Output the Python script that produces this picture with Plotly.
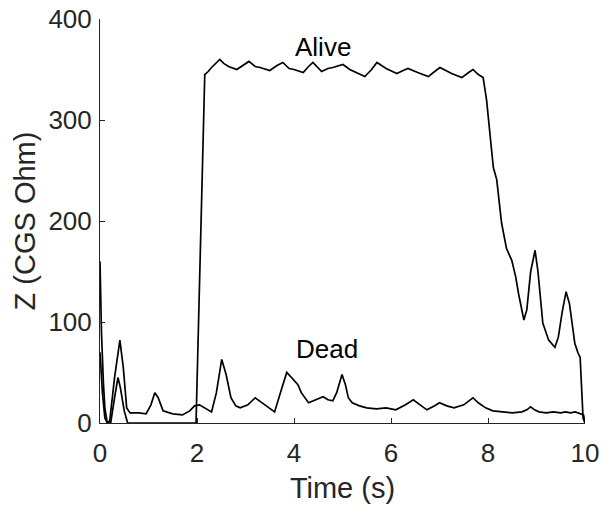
import plotly.graph_objects as go

# Alive trace (time in s, impedance)
t_alive = [0, 0.03, 0.07, 0.1, 0.15, 0.22, 0.3, 0.37, 0.42, 0.5, 0.57, 1.0, 1.5, 1.98,
           2.16, 2.23, 2.3, 2.4, 2.47, 2.55, 2.65, 2.82, 2.95, 3.07, 3.2, 3.3, 3.5,
           3.65, 3.77, 3.9, 4.0, 4.19, 4.3, 4.39, 4.57, 4.7, 4.8, 5.01, 5.15, 5.25,
           5.46, 5.6, 5.71, 5.9, 6.12, 6.25, 6.35, 6.55, 6.77, 6.9, 7.01, 7.25,
           7.46, 7.6, 7.69, 7.8, 7.9, 7.97, 8.04, 8.11, 8.18, 8.28, 8.38, 8.49,
           8.57, 8.63, 8.74, 8.8, 8.88, 8.97, 9.03, 9.13, 9.25, 9.38, 9.45, 9.53,
           9.61, 9.68, 9.79, 9.85, 9.9, 9.93, 9.96, 10.0]
z_alive = [160, 90, 40, 15, 0, 0, 25, 45, 35, 12, 0, 0, 0, 0,
           345, 348, 352, 357, 360, 356, 353, 350, 354, 358, 353, 352, 349,
           354, 357, 351, 350, 347, 353, 357, 348, 351, 352, 355, 350, 348,
           343, 350, 357, 351, 346, 349, 351, 347, 343, 348, 352, 346,
           342, 347, 350, 345, 342, 320, 285, 253, 241, 198, 173, 161,
           145, 128, 102, 112, 150, 171, 150, 99, 82, 75, 85, 110,
           130, 118, 79, 70, 65, 40, 5, 0]

# Dead trace
t_dead = [0, 0.05, 0.1, 0.15, 0.2, 0.3, 0.41, 0.48, 0.55, 0.62, 0.8, 0.95, 1.05, 1.13,
          1.2, 1.3, 1.5, 1.7, 1.85, 1.95, 2.05, 2.2, 2.3, 2.4, 2.51, 2.6, 2.7, 2.8,
          2.89, 3.05, 3.2, 3.4, 3.6, 3.72, 3.85, 3.93, 4.0, 4.08, 4.15, 4.3, 4.4,
          4.5, 4.6, 4.7, 4.8, 4.88, 4.99, 5.06, 5.12, 5.2, 5.35, 5.5, 5.7, 5.9,
          6.1, 6.3, 6.46, 6.6, 6.74, 6.9, 7.0, 7.15, 7.3, 7.5, 7.6, 7.69, 7.8,
          7.95, 8.1, 8.3, 8.5, 8.7, 8.8, 8.88, 8.96, 9.05, 9.2, 9.35, 9.5, 9.6,
          9.7, 9.8, 9.9, 9.97, 10.0]
z_dead = [70, 30, 5, 0, 2, 45, 82, 55, 15, 10, 10, 9, 18, 30,
          25, 12, 9, 8, 12, 17, 18, 14, 11, 30, 63, 48, 25, 17,
          15, 18, 25, 18, 11, 30, 50, 46, 42, 38, 30, 20, 22,
          24, 26, 23, 22, 30, 48, 38, 25, 20, 17, 15, 14, 15,
          13, 18, 23, 18, 13, 17, 20, 17, 15, 18, 22, 25, 20,
          15, 12, 11, 10, 11, 13, 16, 13, 11, 10, 11, 10, 11,
          10, 11, 9, 8, 0]

ink = "#262626"
font = "Liberation Sans, Arial, sans-serif"

fig = go.Figure()
fig.add_trace(go.Scatter(x=t_alive, y=z_alive, mode="lines", name="Alive",
                         line=dict(color="black", width=1.7)))
fig.add_trace(go.Scatter(x=t_dead, y=z_dead, mode="lines", name="Dead",
                         line=dict(color="black", width=1.7)))

fig.add_annotation(x=4.6, y=372, text="Alive", showarrow=False,
                   font=dict(family=font, size=26, color="black"))
fig.add_annotation(x=4.67, y=73, text="Dead", showarrow=False,
                   font=dict(family=font, size=26, color="black"))

# page body adds an 8 px offset, so margins are shifted to compensate
fig.update_layout(
    width=609, height=518,
    margin=dict(l=92, r=32, t=11, b=103),
    paper_bgcolor="white", plot_bgcolor="white",
    showlegend=False,
    font=dict(family=font, size=26, color=ink),
    xaxis=dict(
        range=[0, 10], tickvals=[0, 2, 4, 6, 8, 10],
        showgrid=False, zeroline=False,
        showline=True, linecolor=ink, linewidth=1,
        ticks="inside", ticklen=5, tickcolor=ink,
        ticklabelstandoff=7, ticklabeloverflow="allow",
        automargin=False,
        title=dict(text="Time (s)", font=dict(size=29), standoff=10),
    ),
    yaxis=dict(
        range=[0, 400], tickvals=[0, 100, 200, 300, 400],
        showgrid=False, zeroline=False,
        showline=True, linecolor=ink, linewidth=1,
        ticks="inside", ticklen=5, tickcolor=ink,
        ticklabelstandoff=2, ticklabeloverflow="allow",
        automargin=False,
        title=dict(text="Z (CGS Ohm)", font=dict(size=29), standoff=4),
    ),
)

fig.write_html("out.html")
